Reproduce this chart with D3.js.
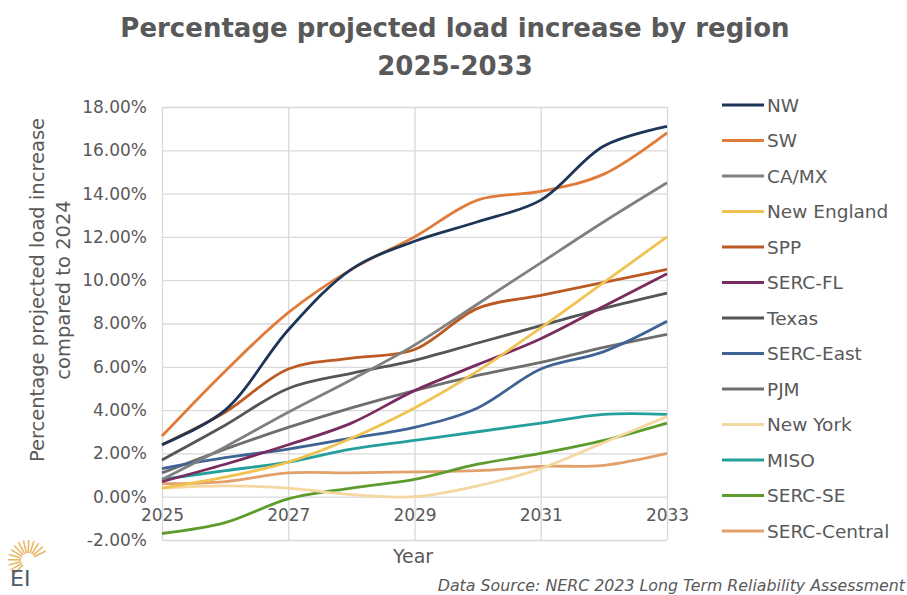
<!DOCTYPE html>
<html>
<head>
<meta charset="utf-8">
<script src="https://cdn.jsdelivr.net/npm/d3@7"></script>
<style>
  body { margin: 0; background: #fff; }
  svg { display: block; }
  text { font-family: "Century Gothic", "DejaVu Sans", sans-serif; fill: #595959; }
</style>
</head>
<body>
<svg id="chart"></svg>
<script>
// Data (percent increase vs 2024)
const years = [2025, 2026, 2027, 2028, 2029, 2030, 2031, 2032, 2033];
const regions = ['NW', 'SW', 'CA/MX', 'New England', 'SPP', 'SERC-FL', 'Texas',
  'SERC-East', 'PJM', 'New York', 'MISO', 'SERC-SE', 'SERC-Central'];
const nw          = [2.4, 4.0, 7.7, 10.5, 11.8, 12.7, 13.7, 16.2, 17.1];
const sw          = [2.8, 5.8, 8.5, 10.5, 12.0, 13.7, 14.1, 14.9, 16.8];
const caMx        = [0.8, 2.3, 3.9, 5.4, 7.0, 8.9, 10.8, 12.7, 14.5];
const newEngland  = [0.4, 0.9, 1.6, 2.7, 4.1, 5.8, 7.8, 9.9, 12.0];
const spp         = [2.4, 3.9, 5.9, 6.4, 6.8, 8.7, 9.3, 9.9, 10.5];
const sercFl      = [0.7, 1.5, 2.4, 3.4, 4.9, 6.1, 7.3, 8.8, 10.3];
const texas       = [1.7, 3.3, 5.0, 5.7, 6.3, 7.1, 7.9, 8.7, 9.4];
const sercEast    = [1.3, 1.8, 2.2, 2.7, 3.2, 4.1, 5.9, 6.7, 8.1];
const pjm         = [1.1, 2.2, 3.2, 4.1, 4.9, 5.6, 6.2, 6.9, 7.5];
const newYork     = [0.4, 0.5, 0.4, 0.1, 0.0, 0.5, 1.3, 2.5, 3.7];
const miso        = [0.8, 1.2, 1.6, 2.2, 2.6, 3.0, 3.4, 3.8, 3.8];
const sercSe      = [-1.7, -1.2, -0.1, 0.4, 0.8, 1.5, 2.0, 2.6, 3.4];
const sercCentral = [0.6, 0.7, 1.1, 1.1, 1.15, 1.2, 1.4, 1.45, 2.0];
const seriesValues = [nw, sw, caMx, newEngland, spp, sercFl, texas,
  sercEast, pjm, newYork, miso, sercSe, sercCentral];
const colors = ['#1d3557', '#e07b39', '#808080', '#f0c24f', '#bc5a24', '#7a2c60', '#555555',
  '#3f6395', '#6e6e6e', '#f5d7a1', '#24a09c', '#5c9c2c', '#e2a06a'];
const yTicks = [-2, 0, 2, 4, 6, 8, 10, 12, 14, 16, 18];
const xTicks = [2025, 2027, 2029, 2031, 2033];

const width = 907, height = 595;
const margin = {top: 107, right: 240, bottom: 55, left: 162};
const font = '"Century Gothic", "DejaVu Sans", sans-serif';

const svg = d3.select('#chart').attr('width', width).attr('height', height);

const x = d3.scaleLinear().domain([2025, 2033]).range([margin.left, 667]);
const y = d3.scaleLinear().domain([-2, 18]).range([540, margin.top]);

// Title
const title = svg.append('text')
    .attr('x', 455).attr('text-anchor', 'middle')
    .style('font-weight', 'bold').style('font-size', '26px');
title.append('tspan').attr('x', 455).attr('y', 37).text('Percentage projected load increase by region');
title.append('tspan').attr('x', 455).attr('y', 75).text('2025-2033');

// Gridlines
svg.append('g')
    .attr('transform', `translate(${margin.left},0)`)
    .call(d3.axisLeft(y).tickValues(yTicks).tickSize(-(x.range()[1] - margin.left)).tickFormat(''))
    .call(g => g.select('.domain').remove())
    .call(g => g.selectAll('line').attr('stroke', '#d9d9d9').attr('stroke-width', 1.3));

svg.append('g')
    .attr('transform', `translate(0,540)`)
    .call(d3.axisBottom(x).tickValues(xTicks).tickSize(-(540 - margin.top)).tickFormat(''))
    .call(g => g.select('.domain').remove())
    .call(g => g.selectAll('line').attr('stroke', '#d9d9d9').attr('stroke-width', 1.3));

// Y tick labels
svg.append('g')
    .attr('transform', `translate(${margin.left},0)`)
    .call(d3.axisLeft(y).tickValues(yTicks).tickSize(0).tickPadding(15)
      .tickFormat(d => d.toFixed(2) + '%'))
    .call(g => g.select('.domain').remove())
    .call(g => g.selectAll('text')
      .style('font-size', '17px').style('font-family', font).attr('fill', '#595959'));

// X tick labels (next to the 0% line)
svg.append('g')
    .attr('transform', `translate(0,${y(0)})`)
    .call(d3.axisBottom(x).tickValues(xTicks).tickSize(0).tickPadding(12).tickFormat(d3.format('d')))
    .call(g => g.select('.domain').remove())
    .call(g => g.selectAll('text')
      .style('font-size', '17px').style('font-family', font).attr('fill', '#595959'));

// Axis titles
svg.append('text').attr('x', 413).attr('y', 563).attr('text-anchor', 'middle')
    .style('font-size', '19px').text('Year');
const yTitle = svg.append('text').attr('transform', 'translate(44,290) rotate(-90)')
    .attr('text-anchor', 'middle').style('font-size', '19.5px');
yTitle.append('tspan').attr('x', 0).attr('y', 0).text('Percentage projected load increase');
yTitle.append('tspan').attr('x', 0).attr('y', 26).text('compared to 2024');

// Lines
const line = d3.line()
    .x((d, i) => x(years[i]))
    .y(d => y(d))
    .curve(d3.curveCatmullRom.alpha(0.5));

const order = d3.range(regions.length).reverse();
svg.append('g').selectAll('path')
  .data(order)
  .join('path')
    .attr('d', i => line(seriesValues[i]))
    .attr('fill', 'none')
    .attr('stroke', i => colors[i])
    .attr('stroke-width', 2.8)
    .attr('stroke-linejoin', 'round');

// Legend
const legend = svg.append('g').attr('transform', 'translate(722,105)');
const rows = legend.selectAll('g').data(regions).join('g')
    .attr('transform', (d, i) => `translate(0,${i * 35.5})`);
rows.append('line').attr('x1', 0).attr('x2', 42).attr('y1', 0).attr('y2', 0)
    .attr('stroke', (d, i) => colors[i]).attr('stroke-width', 2.8);
rows.append('text').attr('x', 45).attr('y', 6.5).style('font-size', '18.5px').text(d => d);

// Source note
svg.append('text').attr('x', 905).attr('y', 591).attr('text-anchor', 'end')
    .style('font-size', '15.8px').style('font-style', 'italic')
    .text('Data Source: NERC 2023 Long Term Reliability Assessment');

// Logo
const logo = svg.append('g').attr('transform', 'translate(28,560)');
d3.range(14).forEach(k => {
  const a = -Math.PI * 0.15 - k * (Math.PI * 1.1 / 13);
  logo.append('line')
      .attr('x1', 7 * Math.cos(a)).attr('y1', 7 * Math.sin(a))
      .attr('x2', 20 * Math.cos(a)).attr('y2', 20 * Math.sin(a))
      .attr('stroke', '#e8b865').attr('stroke-width', 1.6);
});
svg.append('text').attr('x', 10).attr('y', 586).style('font-size', '22px')
    .style('fill', '#4a5a6a').text('EI');
</script>
</body>
</html>
